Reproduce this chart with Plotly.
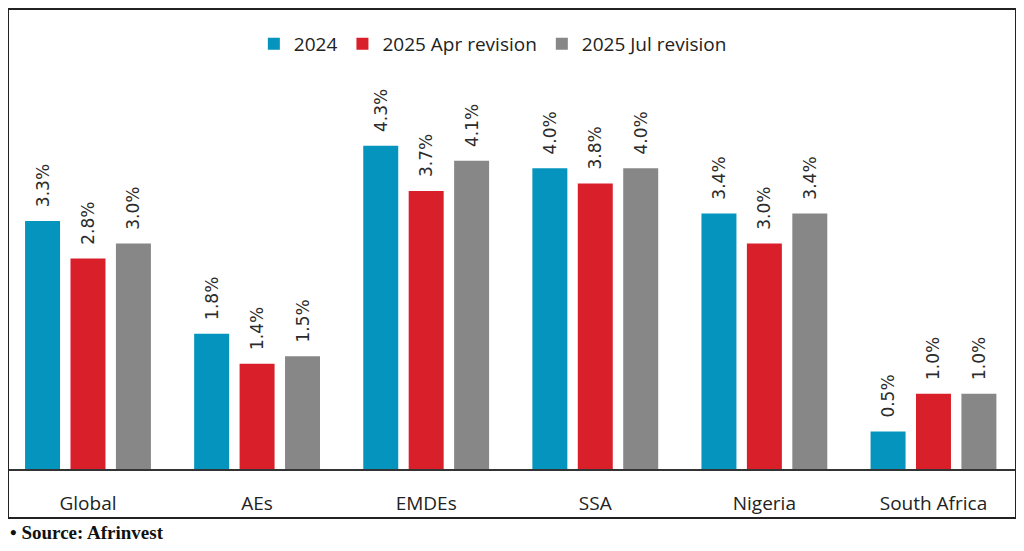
import plotly.graph_objects as go

regions = ["Global", "AEs", "EMDEs", "SSA", "Nigeria", "South Africa"]
series_names = ["2024", "2025 Apr revision", "2025 Jul revision"]
growth_2024 = [3.3, 1.8, 4.3, 4.0, 3.4, 0.5]
growth_apr = [2.8, 1.4, 3.7, 3.8, 3.0, 1.0]
growth_jul = [3.0, 1.5, 4.1, 4.0, 3.4, 1.0]
colors = ["#0594bd", "#d91f2a", "#878787"]

fig = go.Figure()
for name, vals, col in zip(series_names, [growth_2024, growth_apr, growth_jul], colors):
    fig.add_trace(go.Bar(
        x=regions,
        y=vals,
        name=name,
        marker=dict(color=col, line=dict(width=0)),
        text=["\u00a0\u00a0" + f"{v:.1f}%" for v in vals],
        textposition="outside",
        textangle=-90,
        constraintext="none",
        textfont=dict(family="DejaVu Sans", size=17, color="#2b2b2b"),
        cliponaxis=False,
    ))

# frame around the whole chart, axis labels included
fig.add_shape(type="rect", xref="paper", yref="paper",
              x0=0, x1=1, y0=-0.1065, y1=1,
              line=dict(color="#222222", width=2))

# page body adds 8px offset, so the figure is 8px smaller than the window
fig.update_layout(
    width=1016, height=543,
    margin=dict(l=0, r=8, t=1, b=82, autoexpand=False),
    paper_bgcolor="white",
    plot_bgcolor="white",
    barmode="group",
    bargap=0.194,
    bargroupgap=0.23,
    font=dict(family="Open Sans", color="#222222"),
    legend=dict(orientation="h", x=0.481, xanchor="center", y=0.924, yanchor="middle",
                font=dict(size=19, family="Open Sans", color="#222222"),
                itemwidth=30, traceorder="normal"),
    xaxis=dict(showline=True, linecolor="#333333", linewidth=1.5,
               range=[-0.473, 5.488], automargin=False,
               tickfont=dict(size=19, family="Open Sans", color="#222222"),
               ticks="", ticklabelstandoff=16, showgrid=False),
    yaxis=dict(range=[0, 6.12], visible=False, showgrid=False),
    annotations=[dict(text="<b>\u2022 Source: Afrinvest</b>", xref="paper", yref="paper",
                      x=0, y=-0.137, xanchor="left", yanchor="middle", showarrow=False,
                      font=dict(family="Liberation Serif", size=19, color="#111111"))],
)

fig.write_html("out.html")
